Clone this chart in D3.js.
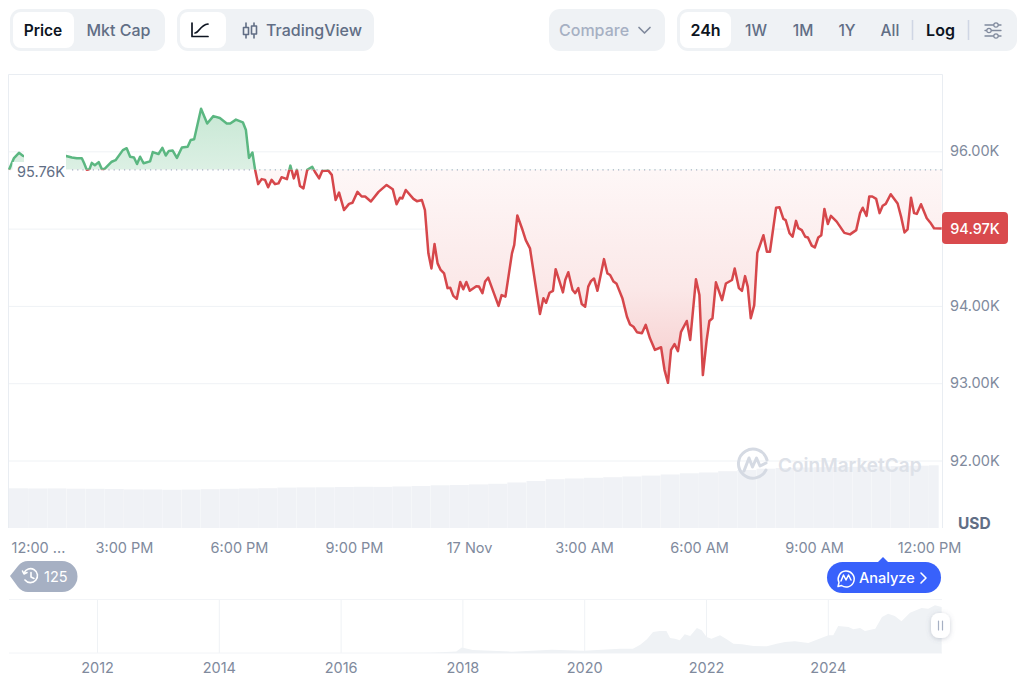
<!DOCTYPE html>
<html>
<head>
<meta charset="utf-8">
<script src="https://cdn.jsdelivr.net/npm/d3@7"></script>
<style>
    body { margin: 0; background: #fff; }
    text { font-family: Inter, "Noto Sans", sans-serif; }
    .axis .domain { display: none; }
    .axis text { font-family: Inter, "Noto Sans", sans-serif; font-size: 14.5px; fill: #808a9d; }
    .axis line { stroke: #eff2f5; }
</style>
</head>
<body>
<div id="chart"></div>
<script>
// hours after 12:00 PM on 16 Nov
const priceHours = [0,0.13,0.26,0.37,0.55,0.94,1.28,1.49,1.64,1.77,1.90,1.96,2.03,2.10,2.16,2.24,2.34,2.42,2.50,2.68,2.78,2.97,3.07,3.16,3.26,3.34,3.42,3.51,3.68,3.75,3.90,4.00,4.09,4.17,4.27,4.38,4.51,4.66,4.74,4.83,5.01,5.17,5.33,5.50,5.68,5.77,5.92,6.10,6.18,6.26,6.35,6.42,6.50,6.59,6.68,6.76,6.85,6.94,7.03,7.11,7.25,7.34,7.43,7.51,7.59,7.68,7.78,7.91,7.98,8.09,8.17,8.33,8.42,8.52,8.61,8.74,8.87,8.96,9.09,9.20,9.29,9.44,9.64,9.85,10.01,10.11,10.20,10.26,10.35,10.55,10.64,10.77,10.85,10.94,11.02,11.10,11.18,11.26,11.35,11.44,11.51,11.59,11.68,11.77,11.85,11.93,12.02,12.19,12.26,12.35,12.42,12.50,12.77,12.85,12.95,13.12,13.18,13.26,13.38,13.48,13.59,13.85,13.94,14.01,14.10,14.19,14.26,14.45,14.51,14.59,14.70,14.77,14.85,14.94,15.03,15.11,15.18,15.26,15.35,15.52,15.61,15.68,15.77,15.85,16.00,16.12,16.20,16.29,16.38,16.51,16.61,16.72,16.85,17.01,17.10,17.19,17.27,17.36,17.45,17.53,17.68,17.77,17.92,18.01,18.10,18.20,18.27,18.35,18.44,18.60,18.70,18.86,18.93,19.04,19.12,19.20,19.27,19.35,19.44,19.52,19.68,19.77,19.85,20.01,20.10,20.20,20.26,20.36,20.44,20.53,20.59,20.68,20.77,20.84,20.94,21.02,21.11,21.19,21.27,21.36,21.44,21.59,21.79,21.94,22.10,22.20,22.27,22.37,22.44,22.52,22.62,22.71,22.79,22.87,23.00,23.18,23.27,23.36,23.44,23.53,23.61,23.68,23.79,23.94,24.03,24.13,24.33];
const priceValues = [95760,95913,95980,95940,95910,95890,95930,95940,95920,95910,95910,95845,95760,95770,95850,95820,95860,95770,95775,95865,95885,96015,96040,95930,95920,95835,95930,95845,95870,95990,95965,96045,95945,96005,96010,95915,96050,96060,96145,96155,96550,96360,96455,96430,96360,96360,96410,96375,96275,95915,95985,95760,95575,95640,95630,95535,95630,95575,95585,95665,95640,95815,95650,95760,95550,95520,95760,95800,95735,95650,95745,95750,95695,95370,95465,95240,95320,95335,95475,95415,95415,95350,95475,95565,95510,95315,95400,95390,95500,95385,95355,95370,95240,94680,94485,94800,94550,94465,94420,94230,94235,94130,94090,94310,94215,94310,94195,94255,94250,94165,94315,94365,94000,94140,94120,94680,94790,95170,95005,94850,94745,93895,94100,94040,94170,94195,94475,94175,94335,94435,94205,94165,94230,94025,93990,94250,94320,94355,94195,94605,94420,94400,94315,94285,94100,93860,93760,93730,93660,93645,93755,93580,93430,93465,93170,93005,93430,93505,93415,93665,93805,93560,94345,94140,93105,93560,93805,93840,94305,94075,94290,94335,94485,94230,94195,94385,94250,93840,94010,94685,94915,94700,94700,95270,95275,95125,95110,94940,94895,95100,95005,94980,94895,94885,94780,94755,94885,94915,95255,95060,95165,95090,94945,94925,94980,95200,95270,95165,95415,95415,95385,95200,95295,95320,95445,95325,95155,94950,94990,95400,95200,95190,95315,95135,95080,95005,95000];
const openPrice = 95760;

// one bar each half hour
const volumeValues = [39.7,39.5,39.6,39.3,39.2,39,38.6,38.5,38.2,38.4,38.8,39.2,39.5,39.8,40.4,40.6,40.7,41,41.2,41.1,41.5,42,42.7,43,43.6,44.2,45.5,47,48.8,49.5,50.2,50.8,51.5,52.4,53.5,54.7,55.5,56.8,58,59.3,60,60.5,60.8,61,61.2,61.6,62,62.3,62.7];

const yTicks = [92000,93000,94000,95000,96000];
const xTickHours = [0,3,6,9,12,15,18,21,24];
const xTickLabels = ["12:00 ...","3:00 PM","6:00 PM","9:00 PM","17 Nov","3:00 AM","6:00 AM","9:00 AM","12:00 PM"];

// overview strip along the bottom
const miniYears = [2010.6,2016.86,2017.47,2017.9,2017.99,2018.17,2018.81,2019.47,2019.99,2020.59,2020.80,2020.92,2021.03,2021.13,2021.24,2021.35,2021.41,2021.49,2021.57,2021.65,2021.74,2021.85,2021.93,2022.01,2022.09,2022.23,2022.34,2022.45,2022.59,2022.78,2023.0,2023.16,2023.30,2023.46,2023.68,2023.84,2024.01,2024.09,2024.17,2024.34,2024.42,2024.53,2024.61,2024.78,2024.89,2024.99,2025.10,2025.21,2025.35,2025.54,2025.65,2025.76,2025.87];
const miniLevels = [0,0,0.3,1.5,5.5,3,1.3,3.3,2.3,4.3,4.3,8.3,13.7,21,22,22,15,14.3,12.7,18.7,17,25,22.7,16,14.3,17.7,13.7,9.3,8.7,7,6.7,9.3,11,11.7,10,13.7,17.7,17.7,27,26,23.7,25,22,24.3,36,39.3,37,31.7,40.3,45,44.3,47.7,46];
const miniTicks = [2012,2014,2016,2018,2020,2022,2024];

const width = 1024;
const height = 684;
const left = 9, right = 941.7, plotBottom = 528;

const svg = d3.select("#chart").append("svg")
    .attr("width", width)
    .attr("height", height)
    .style("display", "block");
const defs = svg.append("defs");

//----------------------------SCALES----------------------------//
const xScale = d3.scaleLinear().domain([0, 24.33]).range([left, right]);
const yScale = d3.scaleLinear().domain([92000, 96000]).range([460.5, 151.3]);
const volScale = d3.scaleLinear().domain([0, 90]).range([plotBottom, plotBottom - 90]);
const miniX = d3.scaleLinear().domain([2012, 2014]).range([97, 218.8]);
const miniY = d3.scaleLinear().domain([0, 53]).range([653, 600]);

const points = priceHours.map(function(h, i) { return {h: h, v: priceValues[i]}; });
const baseY = yScale(openPrice);

//----------------------------TOP BAR---------------------------//
function pill(x0, x1, y0, y1, fill, r) {
    return svg.append("rect").attr("x", x0).attr("y", y0)
        .attr("width", x1 - x0).attr("height", y1 - y0)
        .attr("rx", r).attr("fill", fill);
}
function label(x, y, txt, size, weight, color, anchor) {
    return svg.append("text").attr("x", x).attr("y", y)
        .attr("text-anchor", anchor || "middle")
        .attr("dominant-baseline", "central")
        .attr("font-size", size).attr("font-weight", weight)
        .attr("fill", color).text(txt);
}
function icon(d, color, sw) {
    return svg.append("path").attr("d", d).attr("fill", "none")
        .attr("stroke", color).attr("stroke-width", sw || 1.6)
        .attr("stroke-linecap", "round").attr("stroke-linejoin", "round");
}

pill(10, 165, 9, 51, "#eff2f5", 11);
pill(13, 74, 12, 48, "#fff", 8);
label(43, 30, "Price", 15.5, 600, "#0d1421");
label(118.5, 30, "Mkt Cap", 16, 500, "#616e85");

pill(177, 374, 9, 51, "#eff2f5", 11);
pill(180, 226, 12, 48, "#fff", 8);
icon("M192 23V36.5H208M195 33C199 33 200 25 208 24", "#0d1421", 1.7);
icon("M246 27V23M246 35V38M254 26V23M254 34V38M243.5 27.5H248.5V34.5H243.5ZM251.5 26H256.5V34H251.5Z", "#616e85", 1.6);
label(266, 30, "TradingView", 16, 500, "#616e85", "start");

pill(549, 665, 9, 51, "#eff2f5", 11);
label(559, 30, "Compare", 16, 500, "#a6b0c3", "start");
icon("M639 27.5L644.5 33L650 27.5", "#808a9d", 1.7);

pill(677, 1017, 9, 51, "#eff2f5", 11);
pill(680, 731, 12, 48, "#fff", 8);
label(705.5, 30, "24h", 16, 600, "#0d1421");
label(756, 30, "1W", 15.5, 500, "#616e85");
label(803, 30, "1M", 15.5, 500, "#616e85");
label(847, 30, "1Y", 15.5, 500, "#616e85");
label(890, 30, "All", 15.5, 500, "#616e85");
label(940.5, 30, "Log", 16, 600, "#0d1421");
svg.append("path").attr("d", "M912.5 20V40M968.5 20V40").attr("stroke", "#cfd6e4").attr("stroke-width", 1.6);
icon("M985 25H1001M985 30.5H1001M985 36H1001", "#808a9d", 1.3);
svg.selectAll("circle.knob").data([[996, 25], [989, 30.5], [996, 36]]).enter().append("circle")
    .attr("cx", function(d) { return d[0]; }).attr("cy", function(d) { return d[1]; })
    .attr("r", 2.2).attr("fill", "#eff2f5").attr("stroke", "#808a9d").attr("stroke-width", 1.2);

//----------------------------FRAME-----------------------------//
svg.append("path").attr("d", "M8.5 528V74.5H942.5V528")
    .attr("fill", "none").attr("stroke", "#e9edf2").attr("stroke-width", 1);

//-----------------------------AXES-----------------------------//
svg.append("g")
    .attr("class", "axis")
    .attr("transform", "translate(942,0)")
    .call(d3.axisRight(yScale)
        .tickValues(yTicks)
        .tickSize(-933)
        .tickPadding(8)
        .tickFormat(function(d) { return d3.format(".2f")(d / 1000) + "K"; }))
    .call(function(g) { g.select(".domain").remove(); });

const xAxisG = svg.append("g")
    .attr("class", "axis")
    .attr("transform", "translate(0," + plotBottom + ")")
    .call(d3.axisBottom(xScale)
        .tickValues(xTickHours)
        .tickSize(0)
        .tickPadding(15)
        .tickFormat(function(d, i) { return xTickLabels[i]; }));
xAxisG.selectAll("text").filter(function(d, i) { return i === 0; })
    .attr("text-anchor", "start").attr("x", 2);

//----------------------------VOLUME----------------------------//
defs.append("clipPath").attr("id", "volClip").append("rect")
    .attr("x", left).attr("y", 400).attr("width", 938.7 - left).attr("height", 128);

const barW = xScale(0.5) - xScale(0);
svg.append("g").attr("clip-path", "url(#volClip)")
    .selectAll("rect").data(volumeValues).enter().append("rect")
    .attr("x", function(d, i) { return xScale(i * 0.5); })
    .attr("y", function(d) { return volScale(d); })
    .attr("width", barW - 0.2)
    .attr("height", function(d) { return plotBottom - volScale(d); })
    .attr("fill", "#f0f2f6");

//----------------------------WATERMARK-------------------------//
icon("M766 470A14.5 14.5 0 1 1 767 460", "#d5dae3", 3);
icon("M744 471L749 458L752.5 467L756.5 458L760 466L766 463", "#d5dae3", 3);
label(778, 465, "CoinMarketCap", 19, 600, "#dde1e8", "start");

//----------------------------AREAS-----------------------------//
const greenGrad = defs.append("linearGradient").attr("id", "greenFill")
    .attr("gradientUnits", "userSpaceOnUse")
    .attr("x1", 0).attr("x2", 0).attr("y1", 105).attr("y2", baseY);
greenGrad.append("stop").attr("offset", 0).attr("stop-color", "#c6e7d3");
greenGrad.append("stop").attr("offset", 1).attr("stop-color", "#dcf0e4");

const redGrad = defs.append("linearGradient").attr("id", "redFill")
    .attr("gradientUnits", "userSpaceOnUse")
    .attr("x1", 0).attr("x2", 0).attr("y1", baseY).attr("y2", 384);
redGrad.append("stop").attr("offset", 0).attr("stop-color", "#fef7f7");
redGrad.append("stop").attr("offset", 0.55).attr("stop-color", "#fbe8e8");
redGrad.append("stop").attr("offset", 0.8).attr("stop-color", "#f8d8d8");
redGrad.append("stop").attr("offset", 1).attr("stop-color", "#f4c2c2");

defs.append("clipPath").attr("id", "aboveOpen").append("rect")
    .attr("x", 0).attr("y", 0).attr("width", width).attr("height", baseY);
defs.append("clipPath").attr("id", "belowOpen").append("rect")
    .attr("x", 0).attr("y", baseY).attr("width", width).attr("height", height - baseY);

const area = d3.area()
    .x(function(d) { return xScale(d.h); })
    .y0(baseY)
    .y1(function(d) { return yScale(d.v); });
const line = d3.line()
    .x(function(d) { return xScale(d.h); })
    .y(function(d) { return yScale(d.v); });

svg.append("path").attr("d", area(points)).attr("fill", "url(#greenFill)").attr("clip-path", "url(#aboveOpen)");
svg.append("path").attr("d", area(points)).attr("fill", "url(#redFill)").attr("clip-path", "url(#belowOpen)");

//----------------------------LINES-----------------------------//
svg.append("line")
    .attr("x1", 72).attr("x2", 942)
    .attr("y1", baseY).attr("y2", baseY)
    .attr("stroke", "#a6b0c3").attr("stroke-width", 1.2)
    .attr("stroke-dasharray", "1.2 4");

svg.append("path").attr("d", line(points)).attr("fill", "none")
    .attr("stroke", "#5bb781").attr("stroke-width", 2.5).attr("stroke-linejoin", "round")
    .attr("clip-path", "url(#aboveOpen)");
svg.append("path").attr("d", line(points)).attr("fill", "none")
    .attr("stroke", "#d6474b").attr("stroke-width", 2.5).attr("stroke-linejoin", "round")
    .attr("clip-path", "url(#belowOpen)");

// open price tag sits on top of the line
pill(24, 66, 150, 182, "#fff", 0);
pill(12.5, 24, 162, 182, "#fff", 0);
label(17, 171, "95.76K", 14.5, 400, "#616e85", "start");

// last price tag
pill(942, 1008, 212, 244, "#d94a4d", 4);
label(975, 228, "94.97K", 14.5, 500, "#fff");

label(958, 523, "USD", 15.5, 700, "#616e85", "start");

//----------------------------BUTTONS---------------------------//
svg.append("path")
    .attr("d", "M10 576L18 566Q22 561 28 561H62A15.5 15.5 0 0 1 62 592H28Q22 592 18 587Z")
    .attr("fill", "#a6b0c3");
icon("M24 573A7 7 0 1 1 25 580M22.5 571L24 574L27 572.5M31 572.5V577L34 578.5", "#fff", 1.6);
label(44, 576.5, "125", 14.5, 400, "#fff", "start");

svg.append("path").attr("d", "M877 563L883 557L889 563Z").attr("fill", "#3861fb");
pill(827, 941, 562, 593, "#3861fb", 15.5);
icon("M841.5 585.5L838 586.5L839 582.5A8 8 0 1 1 841.5 585.5Z", "#fff", 1.5);
icon("M841 581L843.5 575L846 580L848.5 575L851 580", "#fff", 1.5);
label(859, 577.5, "Analyze", 14.5, 500, "#fff", "start");
icon("M921 573L926 578L921 583", "#fff", 1.6);

//-----------------------------MINI-----------------------------//
svg.append("line").attr("x1", left).attr("x2", 942)
    .attr("y1", 599.5).attr("y2", 599.5).attr("stroke", "#f2f4f7");

svg.append("g")
    .attr("class", "axis")
    .attr("transform", "translate(0,653)")
    .call(d3.axisBottom(miniX)
        .tickValues(miniTicks)
        .tickSize(-53)
        .tickPadding(10)
        .tickFormat(d3.format("d")))
    .call(function(g) { g.selectAll("line").attr("stroke", "#f2f4f7"); });

svg.append("line").attr("x1", left).attr("x2", 942)
    .attr("y1", 653).attr("y2", 653).attr("stroke", "#f2f4f7");

const miniArea = d3.area()
    .x(function(d, i) { return miniX(miniYears[i]); })
    .y0(miniY(0))
    .y1(function(d) { return miniY(d); });
svg.append("path").attr("d", miniArea(miniLevels)).attr("fill", "#eff2f5");

// drag handle
const shadow = defs.append("filter").attr("id", "handleShadow")
    .attr("x", "-50%").attr("y", "-50%").attr("width", "200%").attr("height", "200%");
shadow.append("feDropShadow").attr("dx", 0).attr("dy", 1).attr("stdDeviation", 2.5)
    .attr("flood-color", "#58667e").attr("flood-opacity", 0.3);
pill(931, 950, 613, 638, "#fff", 8).attr("filter", "url(#handleShadow)");
icon("M938.5 621V630M942.5 621V630", "#a6b0c3", 1.2);
</script>
</body>
</html>
